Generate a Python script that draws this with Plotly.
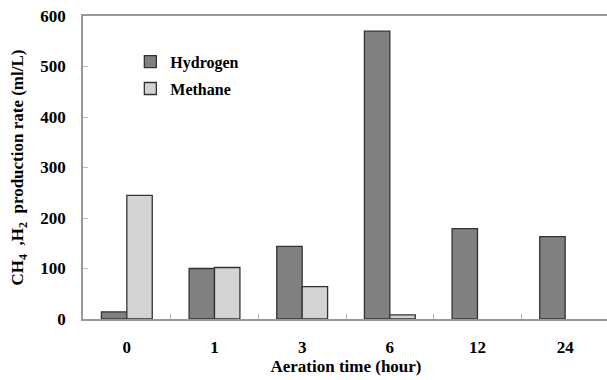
import plotly.graph_objects as go

categories = ["0", "1", "3", "6", "12", "24"]
hydrogen = [14, 100, 144, 570, 179, 163]
methane = [245, 102, 64, 8, 0, 0]
y_ticks = [0, 100, 200, 300, 400, 500, 600]

FONT = "Liberation Serif, Times New Roman, serif"

def outline(vals):
    return [1.3 if v > 0 else 0 for v in vals]

fig = go.Figure()
fig.add_trace(go.Bar(x=categories, y=hydrogen, name="Hydrogen", legendgroup="h",
                     marker=dict(color="#808080", line=dict(color="#333333", width=outline(hydrogen)))))
fig.add_trace(go.Bar(x=categories, y=methane, name="Methane", legendgroup="m",
                     marker=dict(color="#d3d3d3", line=dict(color="#333333", width=outline(methane)))))

fig.update_layout(
    width=609, height=380,
    margin=dict(l=83, r=0, t=16, b=61, autoexpand=False),
    paper_bgcolor="white", plot_bgcolor="white",
    barmode="group", bargap=0.42, bargroupgap=0,
    font=dict(family=FONT, size=17, color="black", weight="bold"),
    showlegend=True,
    legend=dict(x=0.09, y=0.905, xanchor="left", yanchor="top",
                bgcolor="rgba(0,0,0,0)", traceorder="grouped", tracegroupgap=3,
                font=dict(family=FONT, size=16, color="black", weight="bold"),
                itemwidth=30),
    xaxis=dict(type="category", tickson="boundaries", ticks="inside", ticklen=5,
               tickcolor="#bbbbbb", showline=True, linecolor="#999999", linewidth=1.5,
               mirror=True, showgrid=False, ticklabelstandoff=12, automargin=False,
               tickfont=dict(family=FONT, size=17, color="black", weight="bold"),
               title=dict(text="Aeration time (hour)", standoff=4,
                          font=dict(family=FONT, size=17, color="black", weight="bold"))),
    yaxis=dict(range=[0, 600], tickvals=y_ticks, ticks="inside", ticklen=5,
               tickcolor="#bbbbbb", showline=True, linecolor="#999999", linewidth=1.5,
               mirror=False, showgrid=False, zeroline=False, ticklabelstandoff=12,
               automargin=False,
               tickfont=dict(family=FONT, size=17, color="black", weight="bold"),
               title=dict(text="CH<sub>4</sub>  ,H<sub>2</sub>  production rate (ml/L)", standoff=12,
                          font=dict(family=FONT, size=17, color="black", weight="bold"))),
)

fig.write_html("out.html", config={"displayModeBar": False},
               post_script="document.body.style.margin='0';document.body.style.overflow='hidden';")
